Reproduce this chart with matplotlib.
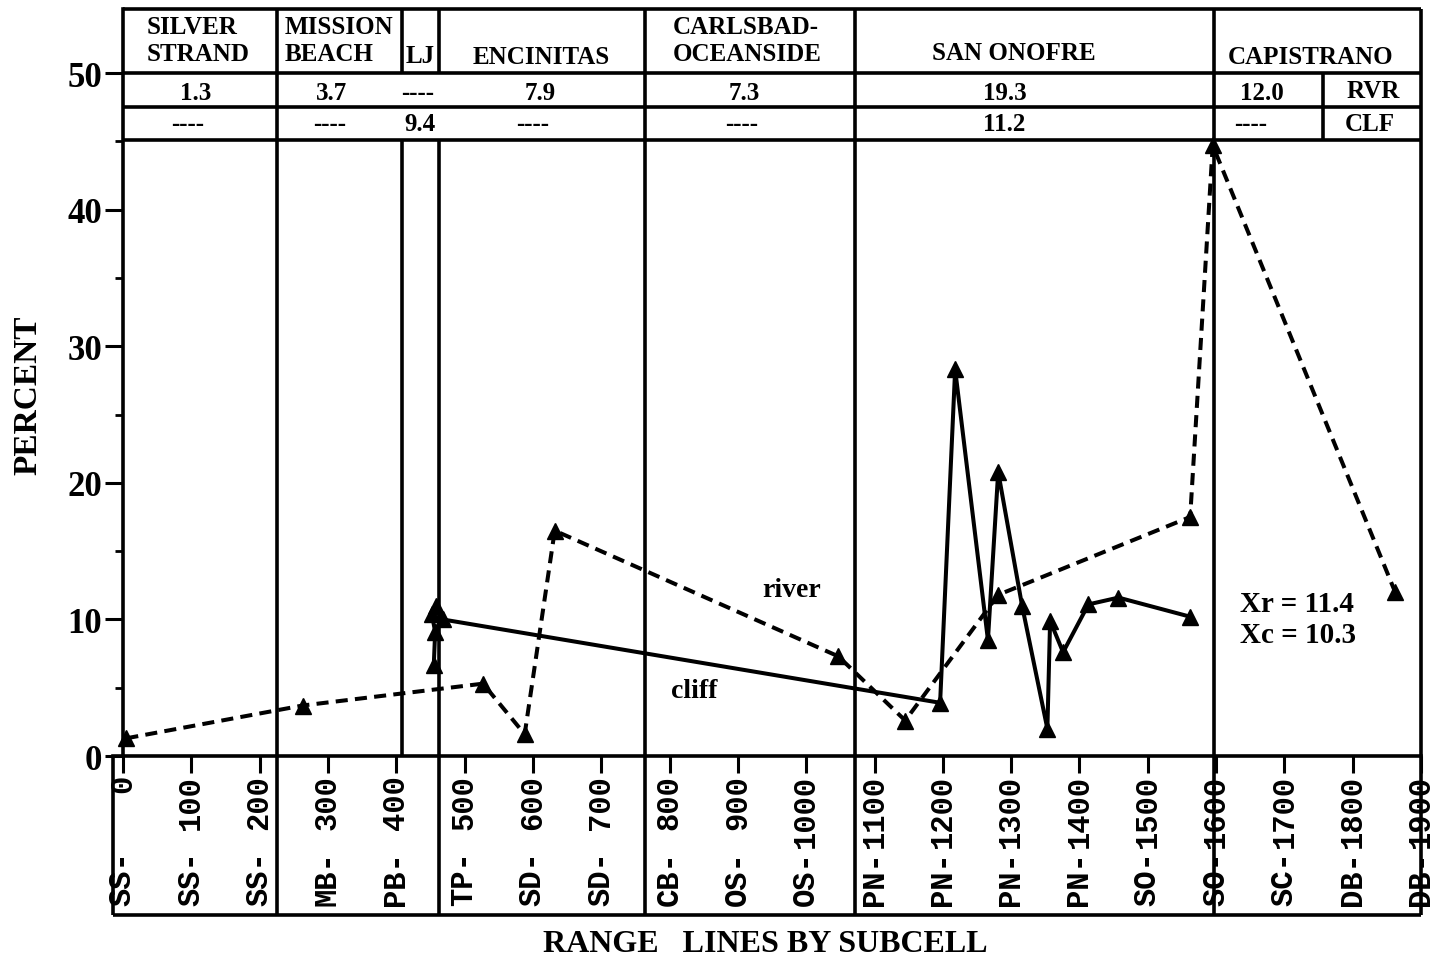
import matplotlib
matplotlib.use('Agg')
import matplotlib.pyplot as plt

plt.rcParams['font.family'] = ['Liberation Serif', 'DejaVu Serif']
plt.rcParams['font.weight'] = 'bold'

# range line position vs. percent contribution, river (dashed) and cliff (solid)
river_x = [5, 263, 527, 588, 632, 1047, 1145, 1281, 1562, 1595, 1862]
river_y = [1.3, 3.7, 5.3, 1.6, 16.5, 7.3, 2.6, 11.8, 17.5, 44.7, 12.0]
cliff_x = [455, 457, 452, 458, 468, 1196, 1218, 1266, 1281, 1316, 1353, 1357, 1376, 1413, 1457, 1562]
cliff_y = [6.7, 9.1, 10.4, 11.0, 10.0, 3.9, 28.3, 8.5, 20.8, 11.0, 2.0, 9.9, 7.6, 11.1, 11.6, 10.2]

ticks = list(range(0, 2000, 100))
prefixes = ['SS-', 'SS-', 'SS-', 'MB-', 'PB-', 'TP-', 'SD-', 'SD-', 'CB-', 'OS-',
            'OS-', 'PN-', 'PN-', 'PN-', 'PN-', 'SO-', 'SO-', 'SC-', 'DB-', 'DB-']

# subcell boundaries
bounds = [225, 408, 462, 764, 1072, 1597]
cells = ['SILVER\nSTRAND', 'MISSION\nBEACH', 'LJ', 'ENCINITAS', 'CARLSBAD-\nOCEANSIDE',
         'SAN ONOFRE', 'CAPISTRANO']
rvr_mean = ['1.3', '3.7', '----', '7.9', '7.3', '19.3', '12.0']
clf_mean = ['----', '----', '9.4', '----', '----', '11.2', '----']

TOP, ROW1, ROW2, ROW3, BOT = 54.7, 50.0, 47.5, 45.1, -11.6
XL, XR = -15, 1900

fig = plt.figure(figsize=(14.36, 9.62), dpi=100)
ax = fig.add_axes([0.0737, 0.0398, 0.9207, 0.9571])
ax.set_xlim(-25, 1910)
ax.set_ylim(-12.2, 55.2)

for s in ['top', 'right']:
    ax.spines[s].set_visible(False)
ax.spines['left'].set_position(('data', 0))
ax.spines['left'].set_bounds(0, TOP)
ax.spines['bottom'].set_position(('data', 0))
ax.spines['bottom'].set_bounds(XL, XR)
for s in ['left', 'bottom']:
    ax.spines[s].set_linewidth(2.6)

lw = 2.6
# header box and label box
ax.hlines([TOP, ROW1, ROW2, ROW3], 0, XR, color='k', lw=lw)
ax.hlines(BOT, XL, XR, color='k', lw=lw)
ax.vlines(XL, BOT, 0, color='k', lw=lw)
ax.vlines(XR, BOT, TOP, color='k', lw=lw)
for b in [225, 764, 1072, 1597]:
    ax.vlines(b, BOT, TOP, color='k', lw=lw)
ax.vlines(408, ROW1, TOP, color='k', lw=lw)
ax.vlines(408, 0, ROW3, color='k', lw=lw)
ax.vlines(462, ROW1, TOP, color='k', lw=lw)
ax.vlines(462, BOT, ROW3, color='k', lw=lw)
ax.vlines(1757, ROW3, ROW1, color='k', lw=lw)

hdr = dict(fontsize=18, fontweight='bold', color='k')
ax.text(35, 52.4, cells[0], ha='left', va='center', linespacing=1.2, **hdr)
ax.text(236, 52.4, cells[1], ha='left', va='center', linespacing=1.2, **hdr)
ax.text(435, 51.3, cells[2], ha='center', va='center', **hdr)
ax.text(612, 51.2, cells[3], ha='center', va='center', **hdr)
ax.text(804, 52.4, cells[4], ha='left', va='center', linespacing=1.2, **hdr)
ax.text(1304, 51.5, cells[5], ha='center', va='center', **hdr)
ax.text(1738, 51.2, cells[6], ha='center', va='center', **hdr)

row_x = [107, 305, 431, 611, 910, 1290, 1667]
clf_x = [95, 302, 435, 600, 905, 1290, 1650]
for x, t in zip(row_x, rvr_mean):
    ax.text(x, 48.55, t, ha='center', va='center', **hdr)
for x, t in zip(clf_x, clf_mean):
    ax.text(x, 46.3, t, ha='center', va='center', **hdr)
ax.text(1830, 48.7, 'RVR', ha='center', va='center', **hdr)
ax.text(1825, 46.3, 'CLF', ha='center', va='center', **hdr)

# data
ax.plot(river_x, river_y, color='k', lw=2.9, ls=(0, (3, 1.8)),
        marker='^', ms=11, clip_on=False)
ax.plot(cliff_x, cliff_y, color='k', lw=2.9, ls='-',
        marker='^', ms=11, clip_on=False)

ax.text(978, 12.2, 'river', ha='center', va='center', fontsize=20)
ax.text(836, 4.8, 'cliff', ha='center', va='center', fontsize=20)
ax.text(1635, 11.2, 'Xr = 11.4', ha='left', va='center', fontsize=21)
ax.text(1635, 8.9, 'Xc = 10.3', ha='left', va='center', fontsize=21)

# y axis
ax.set_yticks(range(0, 60, 10))
ax.set_yticks(range(5, 50, 10), minor=True)
ax.tick_params(axis='y', which='major', length=13, width=2.2, labelsize=25, pad=2)
ax.tick_params(axis='y', which='minor', length=6, width=2)

# x axis: range line numbers on ticks, subcell prefix at the bottom
ax.set_xticks(ticks)
ax.set_xticklabels([str(t) for t in ticks], rotation=90, va='top', ha='center',
                   family='Liberation Mono', fontsize=22, fontweight='bold')
ax.tick_params(axis='x', length=12, width=2.2, pad=1)
for x, p in zip(ticks, prefixes):
    ax.text(x, -10.9, p, rotation=90, ha='center', va='bottom',
            family='Liberation Mono', fontsize=22, fontweight='bold')

fig.text(28 / 1436, 1 - 395 / 962, 'PERCENT', rotation=90, ha='center', va='center',
         fontsize=24, fontweight='bold')
fig.text(765 / 1436, 1 - 945 / 962, 'RANGE   LINES BY SUBCELL', ha='center',
         va='center', fontsize=23, fontweight='bold')

plt.savefig('out.png', dpi=100)
